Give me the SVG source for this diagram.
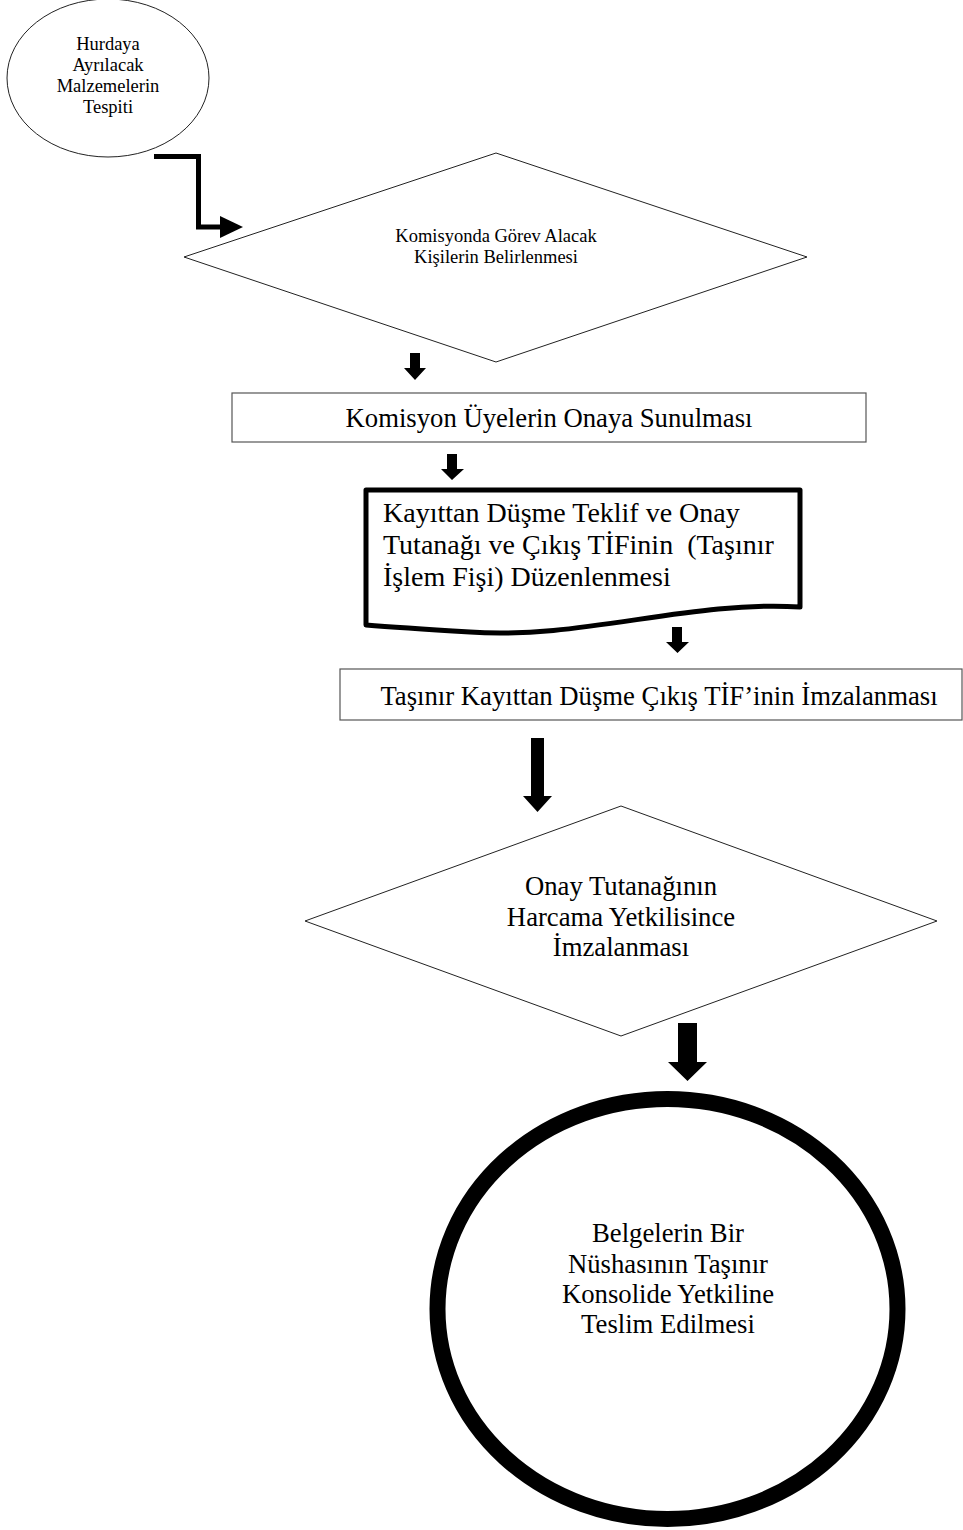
<svg xmlns="http://www.w3.org/2000/svg" width="963" height="1530" viewBox="0 0 963 1530">
<style>
  text { font-family: "Liberation Serif", "Times New Roman", serif; fill: #000; }
  .sm { font-size: 18.5px; }
  .md { font-size: 26.7px; }
  .lg { font-size: 28px; }
  .thin { fill: #fff; stroke: #222; stroke-width: 1; }
  .box { fill: #fff; stroke: #555; stroke-width: 1.2; }
  .arr { fill: #000; stroke: none; }
</style>
<rect width="963" height="1530" fill="#fff"/>

<g id="node-start">
  <ellipse class="thin" cx="108" cy="78" rx="101" ry="79"/>
  <text class="sm" text-anchor="middle" x="108" y="50">Hurdaya</text>
  <text class="sm" text-anchor="middle" x="108" y="71">Ayrılacak</text>
  <text class="sm" text-anchor="middle" x="108" y="92">Malzemelerin</text>
  <text class="sm" text-anchor="middle" x="108" y="113">Tespiti</text>
</g>

<g id="node-decision1">
  <polygon class="thin" points="184,257 496,153 807,257 496,362"/>
  <text class="sm" text-anchor="middle" x="496" y="242">Komisyonda Görev Alacak</text>
  <text class="sm" text-anchor="middle" x="496" y="263">Kişilerin Belirlenmesi</text>
</g>

<g id="node-box1">
  <rect class="box" x="232" y="393" width="634" height="49"/>
  <text class="md" text-anchor="middle" x="549" y="427">Komisyon Üyelerin Onaya Sunulması</text>
</g>

<g id="node-document">
  <path d="M366,490 H800 V607 C690,600 580,640 470,632 C420,629 390,627 366,625 Z" fill="#fff" stroke="#000" stroke-width="5" stroke-linejoin="round"/>
  <text class="lg" x="383" y="522">Kayıttan Düşme Teklif ve Onay</text>
  <text class="lg" x="383" y="554" xml:space="preserve">Tutanağı ve Çıkış TİFinin  (Taşınır</text>
  <text class="lg" x="383" y="586">İşlem Fişi) Düzenlenmesi</text>
</g>

<g id="node-box2">
  <rect class="box" x="340" y="669" width="622" height="51"/>
  <text class="md" text-anchor="middle" x="659" y="705">Taşınır Kayıttan Düşme Çıkış TİF’inin İmzalanması</text>
</g>

<g id="node-decision2">
  <polygon class="thin" points="305,921 621,806 937,921 621,1036"/>
  <text class="md" text-anchor="middle" x="621" y="895">Onay Tutanağının</text>
  <text class="md" text-anchor="middle" x="621" y="926">Harcama Yetkilisince</text>
  <text class="md" text-anchor="middle" x="621" y="956">İmzalanması</text>
</g>

<g id="node-end">
  <ellipse cx="667.5" cy="1309" rx="230" ry="210" fill="#fff" stroke="#000" stroke-width="16"/>
  <text class="md" text-anchor="middle" x="668" y="1242">Belgelerin Bir</text>
  <text class="md" text-anchor="middle" x="668" y="1273">Nüshasının Taşınır</text>
  <text class="md" text-anchor="middle" x="668" y="1303">Konsolide Yetkiline</text>
  <text class="md" text-anchor="middle" x="668" y="1333">Teslim Edilmesi</text>
</g>

<g id="connectors">
  <path d="M154,156.5 H198.5 V227 H222" fill="none" stroke="#000" stroke-width="5"/>
  <polygon class="arr" points="220,216 243,227 220,238"/>
  <polygon class="arr" points="410,353 420,353 420,368 426,368 415,380 404,368 410,368"/>
  <polygon class="arr" points="447,454 457,454 457,469 464,469 452,480 441,469 447,469"/>
  <polygon class="arr" points="672,627 682,627 682,642 689,642 677.5,653 666,642 672,642"/>
  <polygon class="arr" points="531,738 544,738 544,796 552,796 537.5,812 523,796 531,796"/>
  <polygon class="arr" points="678,1023 697,1023 697,1062 707,1062 687.5,1081 668,1062 678,1062"/>
</g>
</svg>
